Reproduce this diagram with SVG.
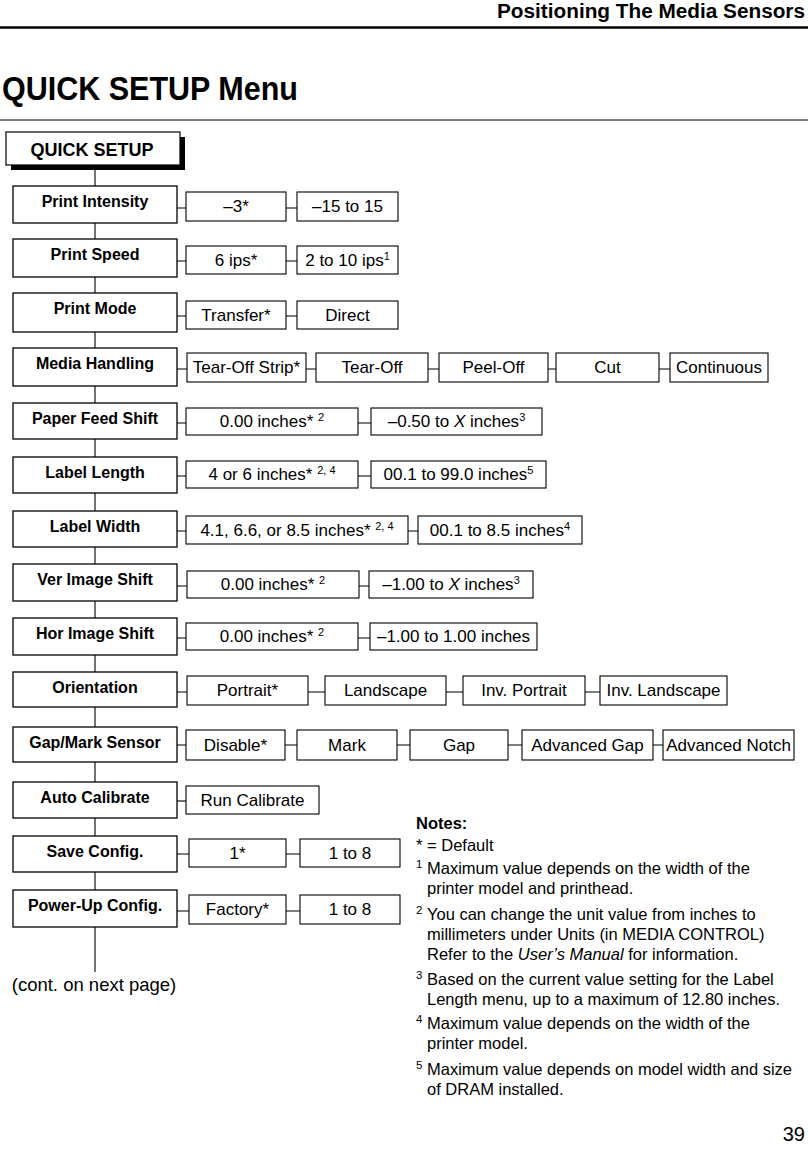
<svg xmlns="http://www.w3.org/2000/svg" width="808" height="1155" viewBox="0 0 808 1155">
<style>
.bg{fill:#fff}
.mb{fill:#fff;stroke:#000;stroke-width:1.3}
.ob{fill:#fff;stroke:#000;stroke-width:1.1}
.ml{font-family:"Liberation Sans",Arial,sans-serif;font-weight:bold;font-size:16px;text-anchor:middle;fill:#000}
.ot{font-family:"Liberation Sans",Arial,sans-serif;font-size:17px;text-anchor:middle;fill:#000}
.nt{font-family:"Liberation Sans",Arial,sans-serif;font-size:16.5px;fill:#000}
.sn{font-family:"Liberation Sans",Arial,sans-serif;font-size:11.5px;fill:#000}
.sup{font-size:11px}
.conn{stroke:#000;stroke-width:1.1;fill:none}
</style>
<rect class="bg" x="0" y="0" width="808" height="1155"/>
<text x="805" y="18" font-family="Liberation Sans,Arial,sans-serif" font-weight="bold" font-size="20" text-anchor="end" textLength="308" lengthAdjust="spacingAndGlyphs">Positioning The Media Sensors</text>
<line x1="0" y1="27.5" x2="808" y2="27.5" stroke="#000" stroke-width="2.5"/>
<text x="2" y="100" font-family="Liberation Sans,Arial,sans-serif" font-weight="bold" font-size="34" textLength="296" lengthAdjust="spacingAndGlyphs">QUICK SETUP Menu</text>
<line x1="0" y1="120" x2="808" y2="120" stroke="#000" stroke-width="1"/>

<g id="connectors">
<path class="conn" d="M95 165V972"/>
<path class="conn" d="M177 208H186M286 208H297"/>
<path class="conn" d="M177 261H186M286 261H297"/>
<path class="conn" d="M177 316H186M286 316H297"/>
<path class="conn" d="M177 369H187M306 369H316M428 369H439M548 369H556M659 369H670"/>
<path class="conn" d="M177 423H186M358 423H371"/>
<path class="conn" d="M177 476H186M358 476H371"/>
<path class="conn" d="M177 531H186M408 531H418"/>
<path class="conn" d="M177 586H187M359 586H369"/>
<path class="conn" d="M177 638H186M358 638H370"/>
<path class="conn" d="M177 692H187M308 692H325M446 692H463M585 692H600"/>
<path class="conn" d="M177 745H186M285 745H297M397 745H410M508 745H522M653 745H663"/>
<path class="conn" d="M177 801H186"/>
<path class="conn" d="M177 854H189M286 854H300"/>
<path class="conn" d="M177 911H189M286 911H300"/>
</g>

<g id="quick-setup">
<rect x="11" y="137" width="174" height="33" fill="#000"/>
<rect x="6" y="132" width="174" height="33" fill="#fff" stroke="#000" stroke-width="1.2"/>
<text x="92" y="156" font-family="Liberation Sans,Arial,sans-serif" font-weight="bold" font-size="18" text-anchor="middle">QUICK SETUP</text>
</g>

<g id="print-intensity">
<rect class="mb" x="13" y="186" width="164" height="37"/>
<text class="ml" x="95" y="207">Print Intensity</text>
<rect class="ob" x="186" y="192" width="100" height="29"/>
<text class="ot" x="236" y="212">–3*</text>
<rect class="ob" x="297" y="192" width="101" height="29"/>
<text class="ot" x="347.5" y="212">–15 to 15</text>
</g>

<g id="print-speed">
<rect class="mb" x="13" y="239" width="164" height="38"/>
<text class="ml" x="95" y="260">Print Speed</text>
<rect class="ob" x="186" y="246" width="100" height="28"/>
<text class="ot" x="236" y="266">6 ips*</text>
<rect class="ob" x="297" y="246" width="101" height="28"/>
<text class="ot" x="347.5" y="266">2 to 10 ips<tspan class="sup" dy="-6">1</tspan></text>
</g>

<g id="print-mode">
<rect class="mb" x="13" y="293" width="164" height="39"/>
<text class="ml" x="95" y="314">Print Mode</text>
<rect class="ob" x="186" y="301" width="100" height="28"/>
<text class="ot" x="236" y="321">Transfer*</text>
<rect class="ob" x="297" y="301" width="101" height="28"/>
<text class="ot" x="347.5" y="321">Direct</text>
</g>

<g id="media-handling">
<rect class="mb" x="13" y="348" width="164" height="38"/>
<text class="ml" x="95" y="369">Media Handling</text>
<rect class="ob" x="187" y="353" width="119" height="29"/>
<text class="ot" x="246.5" y="373">Tear-Off Strip*</text>
<rect class="ob" x="316" y="353" width="112" height="29"/>
<text class="ot" x="372" y="373">Tear-Off</text>
<rect class="ob" x="439" y="353" width="109" height="29"/>
<text class="ot" x="493.5" y="373">Peel-Off</text>
<rect class="ob" x="556" y="353" width="103" height="29"/>
<text class="ot" x="607.5" y="373">Cut</text>
<rect class="ob" x="670" y="353" width="98" height="29"/>
<text class="ot" x="719" y="373">Continuous</text>
</g>

<g id="paper-feed-shift">
<rect class="mb" x="13" y="403" width="164" height="36"/>
<text class="ml" x="95" y="424">Paper Feed Shift</text>
<rect class="ob" x="186" y="408" width="172" height="27"/>
<text class="ot" x="272" y="427">0.00 inches* <tspan class="sup" dy="-6">2</tspan></text>
<rect class="ob" x="371" y="408" width="171" height="27"/>
<text class="ot" x="456.5" y="427">–0.50 to <tspan font-style="italic">X</tspan> inches<tspan class="sup" dy="-6">3</tspan></text>
</g>

<g id="label-length">
<rect class="mb" x="13" y="457" width="164" height="36"/>
<text class="ml" x="95" y="478">Label Length</text>
<rect class="ob" x="186" y="461" width="172" height="27"/>
<text class="ot" x="272" y="480">4 or 6 inches* <tspan class="sup" dy="-6">2, 4</tspan></text>
<rect class="ob" x="371" y="461" width="175" height="27"/>
<text class="ot" x="458.5" y="480">00.1 to 99.0 inches<tspan class="sup" dy="-6">5</tspan></text>
</g>

<g id="label-width">
<rect class="mb" x="13" y="511" width="164" height="36"/>
<text class="ml" x="95" y="532">Label Width</text>
<rect class="ob" x="186" y="516" width="222" height="28"/>
<text class="ot" x="297" y="536">4.1, 6.6, or 8.5 inches* <tspan class="sup" dy="-6">2, 4</tspan></text>
<rect class="ob" x="418" y="516" width="164" height="28"/>
<text class="ot" x="500" y="536">00.1 to 8.5 inches<tspan class="sup" dy="-6">4</tspan></text>
</g>

<g id="ver-image-shift">
<rect class="mb" x="13" y="564" width="164" height="37"/>
<text class="ml" x="95" y="585">Ver Image Shift</text>
<rect class="ob" x="187" y="571" width="172" height="27"/>
<text class="ot" x="273" y="590">0.00 inches* <tspan class="sup" dy="-6">2</tspan></text>
<rect class="ob" x="369" y="571" width="164" height="27"/>
<text class="ot" x="451" y="590">–1.00 to <tspan font-style="italic">X</tspan> inches<tspan class="sup" dy="-6">3</tspan></text>
</g>

<g id="hor-image-shift">
<rect class="mb" x="13" y="618" width="164" height="37"/>
<text class="ml" x="95" y="639">Hor Image Shift</text>
<rect class="ob" x="186" y="623" width="172" height="27"/>
<text class="ot" x="272" y="642">0.00 inches* <tspan class="sup" dy="-6">2</tspan></text>
<rect class="ob" x="370" y="623" width="167" height="27"/>
<text class="ot" x="453.5" y="642">–1.00 to 1.00 inches</text>
</g>

<g id="orientation">
<rect class="mb" x="13" y="672" width="164" height="35"/>
<text class="ml" x="95" y="693">Orientation</text>
<rect class="ob" x="187" y="676" width="121" height="29"/>
<text class="ot" x="247.5" y="696">Portrait*</text>
<rect class="ob" x="325" y="676" width="121" height="29"/>
<text class="ot" x="385.5" y="696">Landscape</text>
<rect class="ob" x="463" y="676" width="122" height="29"/>
<text class="ot" x="524" y="696">Inv. Portrait</text>
<rect class="ob" x="600" y="676" width="127" height="29"/>
<text class="ot" x="663.5" y="696">Inv. Landscape</text>
</g>

<g id="gap-mark-sensor">
<rect class="mb" x="13" y="727" width="164" height="35"/>
<text class="ml" x="95" y="748">Gap/Mark Sensor</text>
<rect class="ob" x="186" y="730" width="99" height="30"/>
<text class="ot" x="235.5" y="751">Disable*</text>
<rect class="ob" x="297" y="730" width="100" height="30"/>
<text class="ot" x="347" y="751">Mark</text>
<rect class="ob" x="410" y="730" width="98" height="30"/>
<text class="ot" x="459" y="751">Gap</text>
<rect class="ob" x="522" y="730" width="131" height="30"/>
<text class="ot" x="587.5" y="751">Advanced Gap</text>
<rect class="ob" x="663" y="730" width="131" height="30"/>
<text class="ot" x="728.5" y="751">Advanced Notch</text>
</g>

<g id="auto-calibrate">
<rect class="mb" x="13" y="782" width="164" height="36"/>
<text class="ml" x="95" y="803">Auto Calibrate</text>
<rect class="ob" x="186" y="786" width="133" height="28"/>
<text class="ot" x="252.5" y="806">Run Calibrate</text>
</g>

<g id="save-config">
<rect class="mb" x="13" y="836" width="164" height="36"/>
<text class="ml" x="95" y="857">Save Config.</text>
<rect class="ob" x="189" y="839" width="97" height="28"/>
<text class="ot" x="237.5" y="859">1*</text>
<rect class="ob" x="300" y="839" width="100" height="28"/>
<text class="ot" x="350" y="859">1 to 8</text>
</g>

<g id="power-up-config">
<rect class="mb" x="13" y="890" width="164" height="37"/>
<text class="ml" x="95" y="911">Power-Up Config.</text>
<rect class="ob" x="189" y="895" width="97" height="29"/>
<text class="ot" x="237.5" y="915">Factory*</text>
<rect class="ob" x="300" y="895" width="100" height="29"/>
<text class="ot" x="350" y="915">1 to 8</text>
</g>

<text class="ot" x="94" y="991" style="font-size:18.5px">(cont. on next page)</text>

<g id="notes">
<text class="nt" x="416" y="829" font-weight="bold">Notes:</text>
<text class="nt" x="416" y="851">* = Default</text>
<text class="sn" x="416" y="868">1</text>
<text class="nt" x="427" y="874">Maximum value depends on the width of the</text>
<text class="nt" x="427" y="894">printer model and printhead.</text>
<text class="sn" x="416" y="914">2</text>
<text class="nt" x="427" y="920">You can change the unit value from inches to</text>
<text class="nt" x="427" y="940">millimeters under Units (in MEDIA CONTROL)</text>
<text class="nt" x="427" y="960">Refer to the <tspan font-style="italic">User’s Manual</tspan> for information.</text>
<text class="sn" x="416" y="979">3</text>
<text class="nt" x="427" y="985">Based on the current value setting for the Label</text>
<text class="nt" x="427" y="1005">Length menu, up to a maximum of 12.80 inches.</text>
<text class="sn" x="416" y="1023">4</text>
<text class="nt" x="427" y="1029">Maximum value depends on the width of the</text>
<text class="nt" x="427" y="1049">printer model.</text>
<text class="sn" x="416" y="1069">5</text>
<text class="nt" x="427" y="1075">Maximum value depends on model width and size</text>
<text class="nt" x="427" y="1095">of DRAM installed.</text>
</g>

<text x="805" y="1141" font-family="Liberation Sans,Arial,sans-serif" font-size="20" text-anchor="end">39</text>
</svg>
